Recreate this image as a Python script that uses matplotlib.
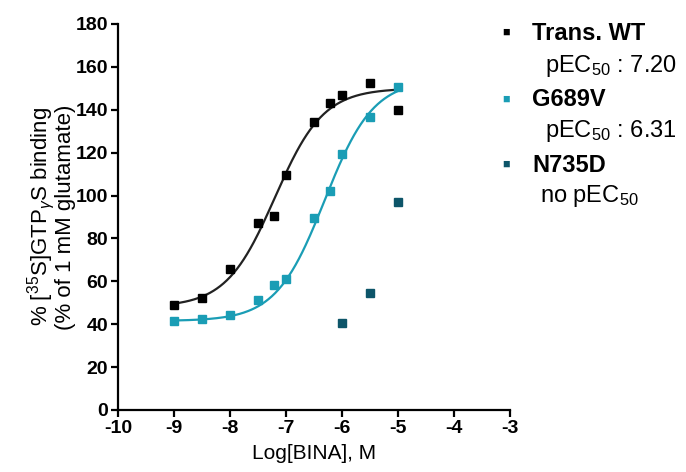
"""Concentration-response of [35S]GTPgammaS binding to BINA"""

import numpy as np
import matplotlib.pyplot as plt

plt.rcParams["font.family"] = ["Liberation Sans", "DejaVu Sans"]
plt.rcParams["mathtext.fontset"] = "custom"
plt.rcParams["mathtext.rm"] = "Liberation Sans"
plt.rcParams["mathtext.it"] = "Liberation Sans:italic"
plt.rcParams["axes.unicode_minus"] = False

COLOR_WT = "#000000"
COLOR_G689V = "#1a9db5"
COLOR_N735D = "#0d5569"

# log concentrations, M
log_conc = [-9, -8.5, -8, -7.5, -7.22, -7, -6.5, -6.22, -6, -5.5, -5]
wt_binding = [48.8, 52.0, 65.6, 87.0, 90.5, 109.4, 134.5, 143.3, 147.0, 152.3, 139.7]
g689v_binding = [41.7, 42.5, 44.5, 51.3, 58.3, 60.9, 89.4, 101.9, 119.5, 136.7, 150.6]

n735d_log_conc = [-6, -5.5, -5]
n735d_binding = [40.6, 54.4, 97.0]

# fitted sigmoid parameters (bottom, top, pEC50, hill)
wt_fit = [48.0, 150.0, 7.20, 1.0]
g689v_fit = [41.5, 154.0, 6.31, 1.0]


def sigmoid(x, bottom, top, pec50, hill):
    return bottom + (top - bottom) / (1 + 10 ** ((-pec50 - x) * hill))


fig = plt.figure(figsize=(6.86, 4.72), dpi=100)
ax = fig.add_axes([0.172, 0.1314, 0.5714, 0.8178])

x_fit = np.linspace(-9, -5, 200)
ax.plot(x_fit, sigmoid(x_fit, *wt_fit), color="#222222", lw=1.6)
ax.plot(x_fit, sigmoid(x_fit, *g689v_fit), color=COLOR_G689V, lw=1.6)

ax.plot(log_conc, wt_binding, "s", color=COLOR_WT, ms=6.3, clip_on=False)
ax.plot(log_conc, g689v_binding, "s", color=COLOR_G689V, ms=6.3, clip_on=False)
ax.plot(n735d_log_conc, n735d_binding, "s", color=COLOR_N735D, ms=6.3, clip_on=False)

ax.set_xlim(-10, -3)
ax.set_ylim(0, 180)
ax.set_xticks(range(-10, -2))
ax.set_yticks(range(0, 181, 20))
for side in ["top", "right"]:
    ax.spines[side].set_visible(False)
for side in ["left", "bottom"]:
    ax.spines[side].set_linewidth(1.6)
ax.tick_params(width=1.6, length=5, labelsize=14, pad=2)
for lab in ax.get_xticklabels() + ax.get_yticklabels():
    lab.set_fontweight("bold")

ax.set_xlabel("Log[BINA], M", fontsize=15, labelpad=5)
ax.set_ylabel("% [$^{35}$S]GTP$_{\\gamma}$S binding\n(% of 1 mM glutamate)",
              fontsize=16, labelpad=0, linespacing=0.85)

# legend written by hand
legend_rows = [
    ("Trans. WT", COLOR_WT, "pEC$_{50}$ : 7.20", 545),
    ("G689V", COLOR_G689V, "pEC$_{50}$ : 6.31", 545),
    ("N735D", COLOR_N735D, "no pEC$_{50}$", 540),
]
row_y = [33, 100, 165]
sub_y = [66, 131, 196]
for (name, color, sub, sub_x), y, y2 in zip(legend_rows, row_y, sub_y):
    fig.text(506 / 686, 1 - y / 472, "\u25a0", color=color, fontsize=9,
             ha="center", va="center")
    fig.text(532 / 686, 1 - y / 472, name, fontsize=17, fontweight="bold",
             ha="left", va="center")
    fig.text(sub_x / 686, 1 - y2 / 472, sub, fontsize=17,
             ha="left", va="center")

fig.savefig("out.png", dpi=100)
